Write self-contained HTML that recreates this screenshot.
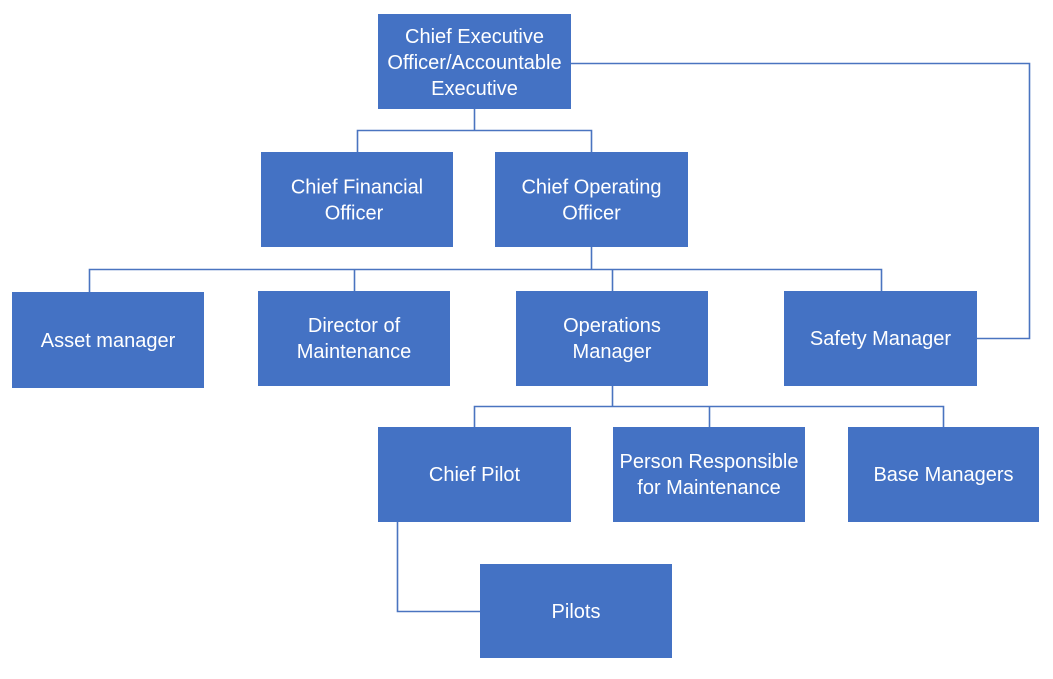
<!DOCTYPE html>
<html>
<head>
<meta charset="utf-8">
<style>
  html, body { margin:0; padding:0; background:#ffffff; }
  body { width:1053px; height:674px; overflow:hidden; }
  svg text { font-family:"Liberation Sans", Arial, sans-serif; font-size:20px; fill:#ffffff; text-anchor:middle; }
</style>
</head>
<body>
<svg width="1053" height="674" viewBox="0 0 1053 674" xmlns="http://www.w3.org/2000/svg">
  <g fill="none" stroke="#4a74c0" stroke-width="1.6">
    <!-- CEO to CFO/COO -->
    <polyline points="474.5,109 474.5,130.5"/>
    <polyline points="357.5,152 357.5,130.5 591.5,130.5 591.5,152"/>
    <!-- CEO to Safety Manager -->
    <polyline points="571,63.5 1029.5,63.5 1029.5,338.5 977,338.5"/>
    <!-- COO to level 3 -->
    <polyline points="591.5,247 591.5,269.5"/>
    <polyline points="89.5,292 89.5,269.5 881.5,269.5 881.5,291"/>
    <polyline points="354.5,269.5 354.5,291"/>
    <polyline points="612.5,269.5 612.5,291"/>
    <!-- Ops to level 4 -->
    <polyline points="612.5,386 612.5,406.5"/>
    <polyline points="474.5,427 474.5,406.5 943.5,406.5 943.5,427"/>
    <polyline points="709.5,406.5 709.5,427"/>
    <!-- Chief Pilot to Pilots -->
    <polyline points="397.5,522 397.5,611.5 480,611.5"/>
  </g>
  <g fill="#4472c4">
    <rect x="378" y="14" width="193" height="95"/>
    <rect x="261" y="152" width="192" height="95"/>
    <rect x="495" y="152" width="193" height="95"/>
    <rect x="12" y="292" width="192" height="96"/>
    <rect x="258" y="291" width="192" height="95"/>
    <rect x="516" y="291" width="192" height="95"/>
    <rect x="784" y="291" width="193" height="95"/>
    <rect x="378" y="427" width="193" height="95"/>
    <rect x="613" y="427" width="192" height="95"/>
    <rect x="848" y="427" width="191" height="95"/>
    <rect x="480" y="564" width="192" height="94"/>
  </g>
  <text x="474.5" y="43">Chief Executive</text>
  <text x="474.5" y="69">Officer/Accountable</text>
  <text x="474.5" y="95">Executive</text>

  <text x="357" y="193.5">Chief Financial</text>
  <text x="354" y="219.5">Officer</text>

  <text x="591.5" y="193.5">Chief Operating</text>
  <text x="591.5" y="219.5">Officer</text>

  <text x="108" y="347">Asset manager</text>

  <text x="354" y="332">Director of</text>
  <text x="354" y="358">Maintenance</text>

  <text x="612" y="332">Operations</text>
  <text x="612" y="358">Manager</text>

  <text x="880.5" y="345">Safety Manager</text>

  <text x="474.5" y="481">Chief Pilot</text>

  <text x="709" y="468">Person Responsible</text>
  <text x="709" y="494">for Maintenance</text>

  <text x="943.5" y="481">Base Managers</text>

  <text x="576" y="618">Pilots</text>
</svg>
</body>
</html>
